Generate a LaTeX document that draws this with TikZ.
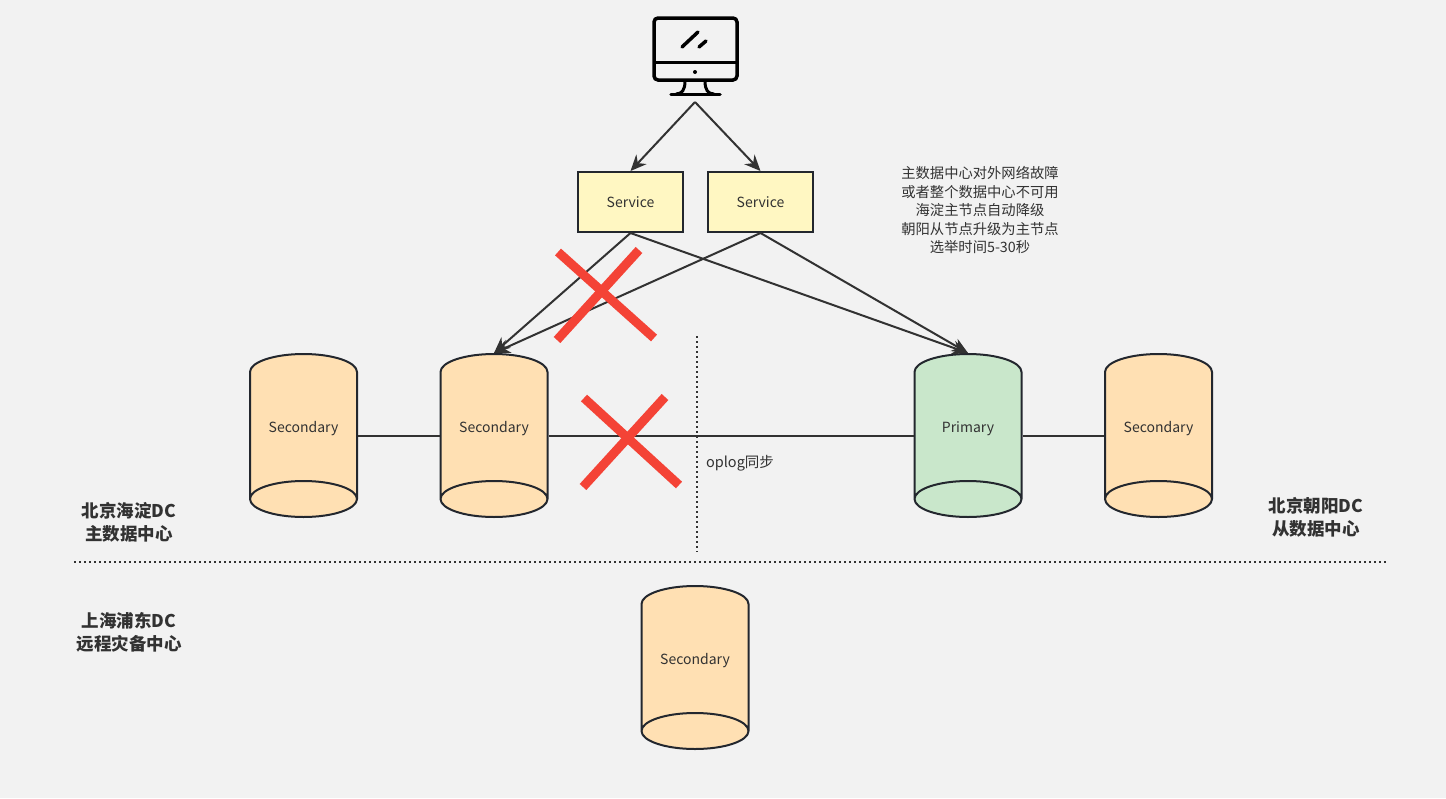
\documentclass[tikz,border=0pt]{standalone}
\usepackage{fontspec}
\setmainfont{Noto Sans CJK SC}
\usetikzlibrary{arrows.meta}
\usetikzlibrary{shapes.geometric}
\definecolor{bgcol}{HTML}{F2F2F2}
\definecolor{inkcol}{HTML}{323232}
\definecolor{edgecol}{HTML}{23272E}
\definecolor{creamcol}{HTML}{FFF7C2}
\definecolor{orangecol}{HTML}{FFE0B3}
\definecolor{greencol}{HTML}{C9E7CB}
\definecolor{redcol}{HTML}{F44336}
\tikzset{
  dbcyl/.style={cylinder, shape border rotate=270, aspect=0.5, draw=edgecol, line width=2pt, minimum width=107pt, minimum height=163pt, inner sep=0pt, text width=72pt, align=center, text height=14pt, text depth=2pt, fill=#1, text=inkcol, font=\fontsize{14}{16}\selectfont},
  svcbox/.style={draw=edgecol, line width=2pt, fill=creamcol, minimum width=105pt, minimum height=60pt, inner sep=0pt, text=inkcol, font=\fontsize{14}{16}\selectfont},
  dclabel/.style={align=center, text=inkcol, font=\fontsize{17.5}{23}\selectfont\bfseries},
  link/.style={draw=inkcol, line width=2pt},
  req/.style={link, -{Stealth[length=16pt,width=14pt]}},
  sepline/.style={draw=inkcol, line width=2pt, dash pattern=on 2pt off 3pt},
  crossmark/.style={draw=redcol, line width=9pt}
}
\begin{document}
\begin{tikzpicture}[x=1pt, y=-1pt]
\useasboundingbox[fill=bgcol] (0,0) rectangle (1446,798);

% monitor
\coordinate (monitor) at (695,102);
\draw[black, line width=3.5pt, rounded corners=4pt] (654,18) rectangle (737,80);
\draw[black, line width=3.5pt] (654,62.5)--(737,62.5);
\draw[black, line width=3.5pt, line cap=round] (682,47)--(698,32);
\draw[black, line width=3.5pt, line cap=round] (699,47)--(706,41);
\fill[black] (695,72) circle (2pt);
\draw[black, line width=3pt] (685,81) .. controls (685,90) and (682,94) .. (676,94);
\draw[black, line width=3pt] (705,81) .. controls (705,90) and (708,94) .. (714,94);
\draw[black, line width=3.5pt, line cap=round] (671,94.5)--(720,94.5);

% services
\node[svcbox] (svcA) at (630.5,202) {Service};
\node[svcbox] (svcB) at (760.5,202) {Service};

% data centre nodes
\node[dbcyl=orangecol] (secA) at (303.5,426) {Secondary};
\node[dbcyl=orangecol] (secB) at (494,426) {Secondary};
\node[dbcyl=greencol] (prim) at (968,426) {Primary};
\node[dbcyl=orangecol] (secC) at (1158.5,426) {Secondary};
\node[dbcyl=orangecol] (secD) at (695,658) {Secondary};

\draw[req] (monitor)--(svcA.north);
\draw[req] (monitor)--(svcB.north);
\foreach \s in {svcA, svcB} {
  \draw[req] (\s.south)--(secB.north);
  \draw[req] (\s.south)--(prim.north);
}
\foreach \a/\b in {secA/secB, secB/prim, prim/secC}
  \draw[link] (\a.shape center -| \a.east)--(\b.shape center -| \b.west);

% dotted separators
\coordinate (vtop) at (697,336);
\coordinate (vbot) at (697,552);
\coordinate (hleft) at (74,562);
\coordinate (hright) at (1386,562);
\draw[sepline] (vtop)--(vbot);
\draw[sepline] (hleft)--(hright);

% crosses
\draw[crossmark] (558,252)--(654,338);
\draw[crossmark] (639,250)--(557,340);
\draw[crossmark] (584,398)--(679,485);
\draw[crossmark] (665,397)--(583,487);

% labels
\node[text=inkcol, font=\fontsize{14.5}{16}\selectfont] (oplog) at (740,463) {oplog同步};
\node[align=center, text=inkcol, font=\fontsize{14.3}{18.5}\selectfont] (note) at (980,210) {主数据中心对外网络故障\\或者整个数据中心不可用\\海淀主节点自动降级\\朝阳从节点升级为主节点\\选举时间5-30秒};
\node[dclabel] (dcA) at (129,522) {北京海淀DC\\主数据中心};
\node[dclabel] (dcB) at (1316,517) {北京朝阳DC\\从数据中心};
\node[dclabel] (dcC) at (129,632) {上海浦东DC\\远程灾备中心};
\end{tikzpicture}
\end{document}
